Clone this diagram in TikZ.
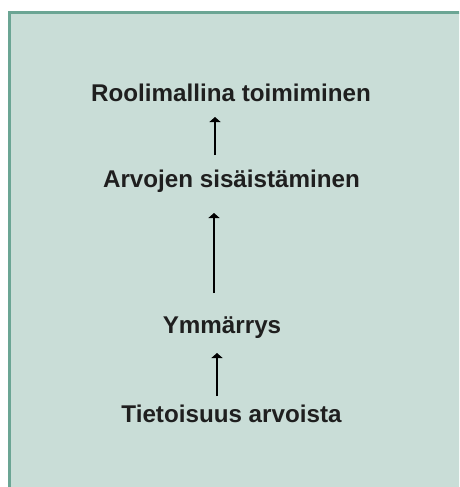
\documentclass[tikz,border=0pt]{standalone}
\usepackage{fontspec}
\setmainfont{Liberation Sans}
\usetikzlibrary{arrows.meta,calc}
\definecolor{pale}{HTML}{C9DDD7}
\definecolor{frame}{HTML}{6BA594}
\definecolor{ink}{HTML}{1F1F1F}
\tikzset{step lab/.style={anchor=base,inner sep=0pt,text=ink,font=\bfseries\fontsize{24.2}{28}\selectfont},
up/.style={-{Triangle[width=11pt,length=5pt]},line width=1.8pt,black}}

\begin{document}
\begin{tikzpicture}[x=1pt,y=1pt]
\useasboundingbox (0,0) rectangle (459,-487);
\clip (0,0) rectangle (459,-487);
\draw[frame,fill=pale,line width=2.6pt] (9.5,-12.7) rectangle (480,-510);
\node[step lab] (a) at (231,-101) {Roolimallina toimiminen};
\node[step lab] (b) at (231.5,-187) {Arvojen sisäistäminen};
\node[step lab] (c) at (222,-333) {Ymmärrys};
\node[step lab] (d) at (231.5,-422) {Tietoisuus arvoista};
\draw[up] ($(b.base)+(-16.5,32)$) -- ($(a.base)+(-16,-16)$);
\draw[up] ($(c.base)+(-8,40)$) -- ($(b.base)+(-17.5,-26)$);
\draw[up] ($(d.base)+(-14.5,26)$) -- ($(c.base)+(-5,-20)$);
\end{tikzpicture}
\end{document}
